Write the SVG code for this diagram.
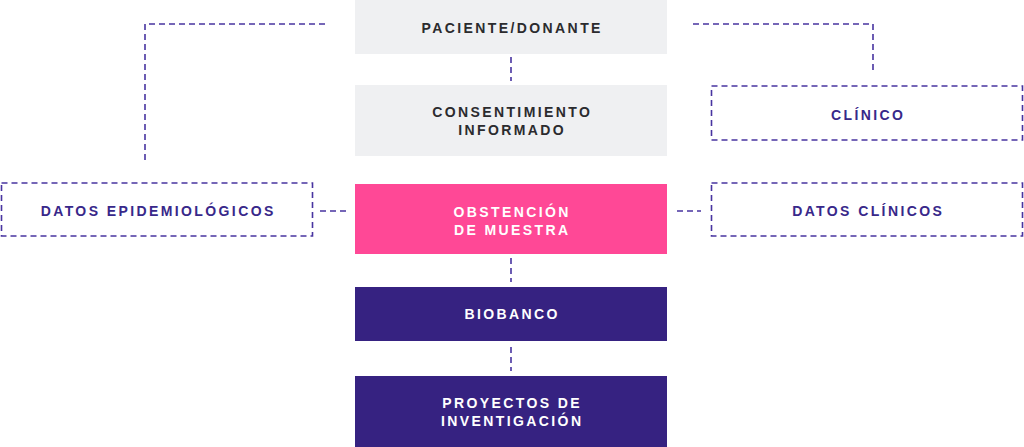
<svg xmlns="http://www.w3.org/2000/svg" width="1024" height="447" viewBox="0 0 1024 447">
<style>
.t{font-family:"Liberation Sans",Arial,sans-serif;font-weight:bold;font-size:14px;letter-spacing:2.4px;text-anchor:middle}
.dk{fill:#2b2b2e}
.wh{fill:#ffffff}
.pu{fill:#38288a}
.gray{fill:#eff0f2}
.pink{fill:#ff4896}
.navy{fill:#362281}
.dbox{fill:none;stroke:#4834a0;stroke-width:1.6;stroke-dasharray:6 4}
.conn{fill:none;stroke:#4834a0;stroke-width:1.6;stroke-dasharray:6 4}
</style>
<rect width="1024" height="447" fill="#ffffff"/>
<g id="connectors">
<path class="conn" d="M325 24H145V161"/>
<path class="conn" d="M693 24H873V71"/>
<path class="conn" d="M511 57V81"/>
<path class="conn" d="M511 258V282"/>
<path class="conn" d="M511 347V371"/>
<path class="conn" d="M320 211H346"/>
<path class="conn" d="M677 211H701"/>
</g>
<g id="paciente">
<rect class="gray" x="355" y="0" width="312" height="54"/>
<text class="t dk" x="512.2" y="33">PACIENTE/DONANTE</text>
</g>
<g id="consentimiento">
<rect class="gray" x="355" y="85" width="312" height="71"/>
<text class="t dk" x="512.2" y="117">CONSENTIMIENTO</text>
<text class="t dk" x="512.2" y="135">INFORMADO</text>
</g>
<g id="obstencion">
<rect class="pink" x="355" y="184" width="312" height="70"/>
<text class="t wh" x="512.2" y="217">OBSTENCIÓN</text>
<text class="t wh" x="512.2" y="235">DE MUESTRA</text>
</g>
<g id="biobanco">
<rect class="navy" x="355" y="287" width="312" height="54"/>
<text class="t wh" x="512.2" y="319">BIOBANCO</text>
</g>
<g id="proyectos">
<rect class="navy" x="355" y="376" width="312" height="71"/>
<text class="t wh" x="512.2" y="408">PROYECTOS DE</text>
<text class="t wh" x="512.2" y="426">INVENTIGACIÓN</text>
</g>
<g id="clinico">
<rect class="dbox" x="711.5" y="86" width="311" height="54"/>
<text class="t pu" x="868.2" y="120">CLÍNICO</text>
</g>
<g id="datos-clinicos">
<rect class="dbox" x="711.5" y="183" width="311" height="53"/>
<text class="t pu" x="868.2" y="216">DATOS CLÍNICOS</text>
</g>
<g id="datos-epidemiologicos">
<rect class="dbox" x="1.5" y="183" width="311" height="53"/>
<text class="t pu" x="158.2" y="216">DATOS EPIDEMIOLÓGICOS</text>
</g>
</svg>
